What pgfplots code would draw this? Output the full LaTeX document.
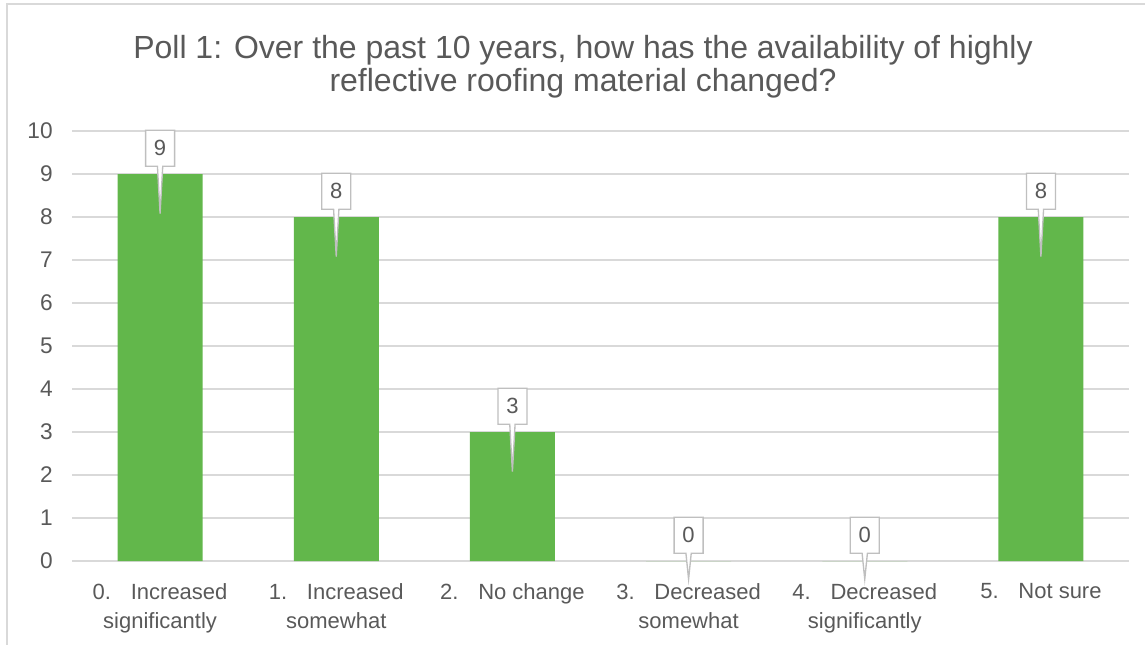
\documentclass[border=0pt]{standalone}
\usepackage{pgfplots}
\pgfplotsset{compat=1.18}
\usepackage{fontspec}
\setmainfont{Liberation Sans}
\usetikzlibrary{shapes.callouts}
\definecolor{barg}{HTML}{62B74B}
\definecolor{txt}{HTML}{595959}
\definecolor{gridc}{HTML}{D9D9D9}
\definecolor{callc}{HTML}{BFBFBF}
\begin{document}
\begin{tikzpicture}
\useasboundingbox (0,0) rectangle (858.75pt,483pt);
\draw[gridc, line width=1.6pt] (5.25pt,-10pt) -- (5.25pt,480pt) -- (880pt,480pt);
\node[align=center, text=txt, font=\fontsize{24}{24.75}\selectfont] at (437.25pt,433pt)
  {Poll 1: Over the past 10 years, how has the availability of highly\\reflective roofing material changed?};
\begin{axis}[
  at={(54pt,62.25pt)}, anchor=south west,
  scale only axis, width=792.75pt, height=322.5pt,
  xmin=-0.5, xmax=5.5, ymin=0, ymax=10,
  axis x line*=bottom, axis y line*=left,
  y axis line style={draw=none},
  x axis line style={draw=gridc, line width=1pt},
  ytick={0,1,...,10},
  ymajorgrids, grid style={gridc, line width=1pt},
  ytick style={draw=none},
  xtick={0,1,2,3,4,5},
  xtick style={draw=none},
  xticklabels={{0.\hspace{0.9em}Increased\\significantly},{1.\hspace{0.9em}Increased\\somewhat},{2.\hspace{0.9em}No change},{3.\hspace{0.9em}Decreased\\somewhat},{4.\hspace{0.9em}Decreased\\significantly},{5.\hspace{0.9em}Not sure}},
  xticklabel style={align=center, text=txt, font=\fontsize{16.5}{21.75}\selectfont, yshift=-13.5pt},
  yticklabel style={text=txt, font=\fontsize{17}{19}\selectfont, xshift=-11pt},
  /pgf/number format/assume math mode=true,
  extra x ticks={-0.5,0.5,1.5,2.5,3.5,4.5,5.5},
  extra x tick labels={},
  extra x tick style={grid=none, tick align=outside, major tick length=4.5pt, tick style={draw=gridc, line width=1pt}},
  clip=false,
]
\addplot[ybar, fill=barg, draw=none, bar width=63.75pt,
  nodes near coords,
  visualization depends on=rawy \as \rawy,
  every node near coord/.append style={
    rectangle callout, draw=callc, line width=1pt, fill=white,
    anchor=center, yshift=19.35pt,
    minimum width=21.75pt, minimum height=27pt, inner sep=2pt,
    text=txt, font=\fontsize{16.5}{19}\selectfont,
    callout pointer width=4pt,
    callout relative pointer={(0pt,{(-19.5-16*min(\rawy,1))*1pt})},
  },
] coordinates {(0,9) (1,8) (2,3) (3,0) (4,0) (5,8)};
\end{axis}
\end{tikzpicture}
\end{document}
